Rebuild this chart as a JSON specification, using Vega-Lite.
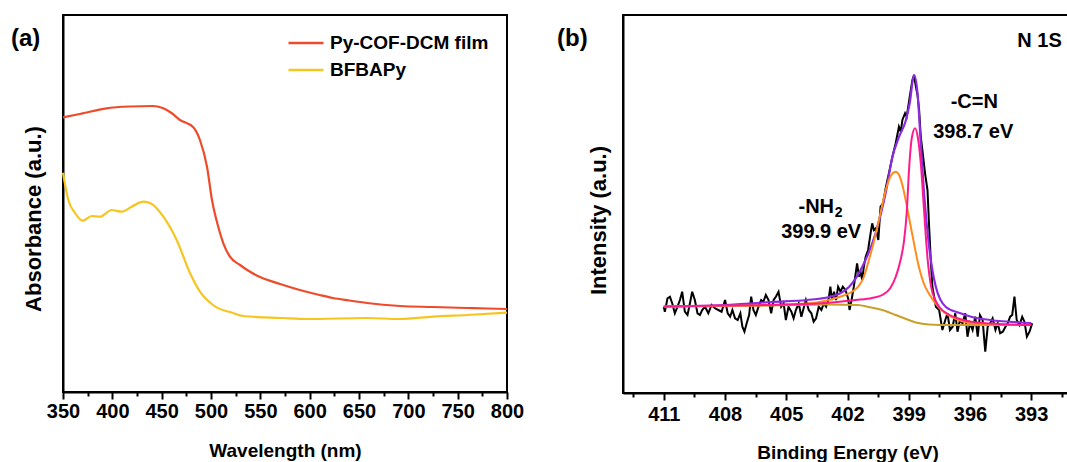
{
  "$schema": "https://vega.github.io/schema/vega-lite/v6.json",
  "padding": {"left": 10, "top": 14, "right": 0, "bottom": 0},
  "autosize": {"type": "pad"},
  "spacing": 116,
  "bounds": "flush",
  "config": {
    "font": "Liberation Sans",
    "view": {"stroke": "black", "strokeWidth": 2},
    "axis": {
      "domainColor": "black", "domainWidth": 2,
      "tickColor": "black", "tickWidth": 2,
      "labelFont": "Liberation Sans", "labelFontSize": 20, "labelFontWeight": "bold", "labelColor": "black",
      "titleFont": "Liberation Sans", "titleFontWeight": "bold", "titleColor": "black",
      "grid": false, "labelFlush": false, "labelOverlap": false
    },
    "title": {"font": "Liberation Sans", "fontSize": 24, "fontWeight": "bold", "color": "black"}
  },
  "datasets": {
    "uv": [
      {"wavelength": 350, "absorbance": 274.7, "sample": "Py-COF-DCM film"},
      {"wavelength": 367, "absorbance": 278, "sample": "Py-COF-DCM film"},
      {"wavelength": 394, "absorbance": 283.7, "sample": "Py-COF-DCM film"},
      {"wavelength": 418, "absorbance": 285.5, "sample": "Py-COF-DCM film"},
      {"wavelength": 441, "absorbance": 286, "sample": "Py-COF-DCM film"},
      {"wavelength": 451, "absorbance": 284, "sample": "Py-COF-DCM film"},
      {"wavelength": 460, "absorbance": 279, "sample": "Py-COF-DCM film"},
      {"wavelength": 468.6, "absorbance": 272, "sample": "Py-COF-DCM film"},
      {"wavelength": 481.8, "absorbance": 265, "sample": "Py-COF-DCM film"},
      {"wavelength": 488.8, "absorbance": 252, "sample": "Py-COF-DCM film"},
      {"wavelength": 496, "absorbance": 225, "sample": "Py-COF-DCM film"},
      {"wavelength": 501, "absorbance": 192, "sample": "Py-COF-DCM film"},
      {"wavelength": 507.4, "absorbance": 165, "sample": "Py-COF-DCM film"},
      {"wavelength": 512.5, "absorbance": 148.7, "sample": "Py-COF-DCM film"},
      {"wavelength": 519.2, "absorbance": 135.3, "sample": "Py-COF-DCM film"},
      {"wavelength": 529.4, "absorbance": 127, "sample": "Py-COF-DCM film"},
      {"wavelength": 540, "absorbance": 120, "sample": "Py-COF-DCM film"},
      {"wavelength": 549.7, "absorbance": 115, "sample": "Py-COF-DCM film"},
      {"wavelength": 570, "absorbance": 108, "sample": "Py-COF-DCM film"},
      {"wavelength": 590, "absorbance": 102, "sample": "Py-COF-DCM film"},
      {"wavelength": 610, "absorbance": 97, "sample": "Py-COF-DCM film"},
      {"wavelength": 623.6, "absorbance": 94, "sample": "Py-COF-DCM film"},
      {"wavelength": 640, "absorbance": 91.5, "sample": "Py-COF-DCM film"},
      {"wavelength": 658, "absorbance": 89, "sample": "Py-COF-DCM film"},
      {"wavelength": 691.5, "absorbance": 86, "sample": "Py-COF-DCM film"},
      {"wavelength": 725, "absorbance": 85, "sample": "Py-COF-DCM film"},
      {"wavelength": 759.5, "absorbance": 84, "sample": "Py-COF-DCM film"},
      {"wavelength": 780, "absorbance": 83.5, "sample": "Py-COF-DCM film"},
      {"wavelength": 800, "absorbance": 83, "sample": "Py-COF-DCM film"},
      {"wavelength": 350, "absorbance": 219.3, "sample": "BFBAPy"},
      {"wavelength": 355.4, "absorbance": 192, "sample": "BFBAPy"},
      {"wavelength": 362.2, "absorbance": 179, "sample": "BFBAPy"},
      {"wavelength": 370, "absorbance": 171.3, "sample": "BFBAPy"},
      {"wavelength": 379, "absorbance": 176, "sample": "BFBAPy"},
      {"wavelength": 387.5, "absorbance": 175.3, "sample": "BFBAPy"},
      {"wavelength": 399.4, "absorbance": 182, "sample": "BFBAPy"},
      {"wavelength": 409.5, "absorbance": 180.3, "sample": "BFBAPy"},
      {"wavelength": 419.6, "absorbance": 185.3, "sample": "BFBAPy"},
      {"wavelength": 431.4, "absorbance": 190.3, "sample": "BFBAPy"},
      {"wavelength": 440, "absorbance": 188, "sample": "BFBAPy"},
      {"wavelength": 451.7, "absorbance": 175.3, "sample": "BFBAPy"},
      {"wavelength": 465.2, "absorbance": 152, "sample": "BFBAPy"},
      {"wavelength": 478.7, "absorbance": 119, "sample": "BFBAPy"},
      {"wavelength": 488.8, "absorbance": 100.3, "sample": "BFBAPy"},
      {"wavelength": 502, "absorbance": 87, "sample": "BFBAPy"},
      {"wavelength": 522.3, "absorbance": 79, "sample": "BFBAPy"},
      {"wavelength": 532.4, "absorbance": 76, "sample": "BFBAPy"},
      {"wavelength": 573, "absorbance": 74, "sample": "BFBAPy"},
      {"wavelength": 597.3, "absorbance": 73, "sample": "BFBAPy"},
      {"wavelength": 658, "absorbance": 74, "sample": "BFBAPy"},
      {"wavelength": 691.5, "absorbance": 73, "sample": "BFBAPy"},
      {"wavelength": 725, "absorbance": 75.3, "sample": "BFBAPy"},
      {"wavelength": 759.5, "absorbance": 77, "sample": "BFBAPy"},
      {"wavelength": 800, "absorbance": 79.3, "sample": "BFBAPy"}
    ],
    "xps_raw": [
      {"be": 411.0, "intensity": 86.3}, {"be": 410.95, "intensity": 81.3}, {"be": 410.82, "intensity": 94.7},
      {"be": 410.70, "intensity": 96.3}, {"be": 410.59, "intensity": 89.7}, {"be": 410.46, "intensity": 79.7},
      {"be": 410.33, "intensity": 86.3}, {"be": 410.21, "intensity": 93}, {"be": 410.10, "intensity": 101.3},
      {"be": 409.97, "intensity": 81.3}, {"be": 409.84, "intensity": 78}, {"be": 409.72, "intensity": 89.7},
      {"be": 409.61, "intensity": 101.3}, {"be": 409.48, "intensity": 93}, {"be": 409.35, "intensity": 79.7},
      {"be": 409.23, "intensity": 78}, {"be": 409.12, "intensity": 83}, {"be": 408.98, "intensity": 86.3},
      {"be": 408.82, "intensity": 79.7}, {"be": 408.66, "intensity": 88}, {"be": 408.49, "intensity": 84.7},
      {"be": 408.33, "intensity": 83}, {"be": 408.17, "intensity": 81.3}, {"be": 408.00, "intensity": 93},
      {"be": 407.87, "intensity": 79.7}, {"be": 407.75, "intensity": 76.3}, {"be": 407.64, "intensity": 83},
      {"be": 407.51, "intensity": 74.7}, {"be": 407.38, "intensity": 73}, {"be": 407.25, "intensity": 79.7},
      {"be": 407.15, "intensity": 66.3}, {"be": 407.05, "intensity": 61.3}, {"be": 406.94, "intensity": 69.7},
      {"be": 406.82, "intensity": 78}, {"be": 406.72, "intensity": 96.3}, {"be": 406.61, "intensity": 83},
      {"be": 406.49, "intensity": 78}, {"be": 406.36, "intensity": 86.3}, {"be": 406.23, "intensity": 93},
      {"be": 406.12, "intensity": 91.3}, {"be": 406.00, "intensity": 98}, {"be": 405.87, "intensity": 93},
      {"be": 405.74, "intensity": 79.7}, {"be": 405.62, "intensity": 93}, {"be": 405.51, "intensity": 96.3},
      {"be": 405.38, "intensity": 101.3}, {"be": 405.25, "intensity": 86.3}, {"be": 405.13, "intensity": 89.7},
      {"be": 405.02, "intensity": 73}, {"be": 404.89, "intensity": 86.3}, {"be": 404.75, "intensity": 81.3},
      {"be": 404.64, "intensity": 74.7}, {"be": 404.53, "intensity": 83}, {"be": 404.39, "intensity": 89.7},
      {"be": 404.26, "intensity": 76.3}, {"be": 404.15, "intensity": 84.7}, {"be": 404.04, "intensity": 93},
      {"be": 403.90, "intensity": 83}, {"be": 403.77, "intensity": 79.7}, {"be": 403.66, "intensity": 71.3},
      {"be": 403.54, "intensity": 74.7}, {"be": 403.41, "intensity": 86.3}, {"be": 403.28, "intensity": 83},
      {"be": 403.16, "intensity": 89.7}, {"be": 403.05, "intensity": 86.3}, {"be": 402.92, "intensity": 94.7},
      {"be": 402.84, "intensity": 106.3}, {"be": 402.76, "intensity": 93}, {"be": 402.66, "intensity": 101.3},
      {"be": 402.56, "intensity": 93}, {"be": 402.46, "intensity": 106.3}, {"be": 402.34, "intensity": 101.3},
      {"be": 402.23, "intensity": 106.3}, {"be": 402.10, "intensity": 103}, {"be": 401.97, "intensity": 94.7},
      {"be": 401.90, "intensity": 83}, {"be": 401.80, "intensity": 93}, {"be": 401.69, "intensity": 106.3},
      {"be": 401.61, "intensity": 118}, {"be": 401.53, "intensity": 129.7}, {"be": 401.44, "intensity": 116.3},
      {"be": 401.36, "intensity": 121.3}, {"be": 401.28, "intensity": 113}, {"be": 401.20, "intensity": 126.3},
      {"be": 401.11, "intensity": 136.3}, {"be": 400.99, "intensity": 143}, {"be": 400.87, "intensity": 159.7},
      {"be": 400.79, "intensity": 169.7}, {"be": 400.71, "intensity": 163}, {"be": 400.62, "intensity": 164.7},
      {"be": 400.49, "intensity": 153}, {"be": 400.38, "intensity": 186.3}, {"be": 400.26, "intensity": 189.7},
      {"be": 400.13, "intensity": 204.7}, {"be": 399.97, "intensity": 219.7}, {"be": 399.80, "intensity": 236.3},
      {"be": 399.64, "intensity": 249.7}, {"be": 399.48, "intensity": 266.3}, {"be": 399.39, "intensity": 261.3},
      {"be": 399.31, "intensity": 273}, {"be": 399.18, "intensity": 279.7}, {"be": 399.10, "intensity": 276.3},
      {"be": 398.95, "intensity": 296.3}, {"be": 398.82, "intensity": 313}, {"be": 398.74, "intensity": 318},
      {"be": 398.65, "intensity": 306.3}, {"be": 398.57, "intensity": 298}, {"be": 398.49, "intensity": 283},
      {"be": 398.41, "intensity": 256.3}, {"be": 398.33, "intensity": 243}, {"be": 398.20, "intensity": 219.7},
      {"be": 398.08, "intensity": 203}, {"be": 398.00, "intensity": 166.3}, {"be": 397.92, "intensity": 133},
      {"be": 397.84, "intensity": 106.3}, {"be": 397.67, "intensity": 86.3}, {"be": 397.51, "intensity": 83},
      {"be": 397.35, "intensity": 63}, {"be": 397.21, "intensity": 73}, {"be": 397.10, "intensity": 79.7},
      {"be": 396.98, "intensity": 63}, {"be": 396.85, "intensity": 66.3}, {"be": 396.72, "intensity": 79.7},
      {"be": 396.61, "intensity": 61.3}, {"be": 396.49, "intensity": 73}, {"be": 396.36, "intensity": 69.7},
      {"be": 396.23, "intensity": 79.7}, {"be": 396.12, "intensity": 56.3}, {"be": 396.00, "intensity": 69.7},
      {"be": 395.87, "intensity": 63}, {"be": 395.74, "intensity": 76.3}, {"be": 395.62, "intensity": 56.3},
      {"be": 395.51, "intensity": 78}, {"be": 395.38, "intensity": 73}, {"be": 395.25, "intensity": 41.3},
      {"be": 395.13, "intensity": 66.3}, {"be": 395.01, "intensity": 69.7}, {"be": 394.89, "intensity": 74.7},
      {"be": 394.75, "intensity": 63}, {"be": 394.64, "intensity": 69.7}, {"be": 394.52, "intensity": 59.7},
      {"be": 394.39, "intensity": 61.3}, {"be": 394.26, "intensity": 66.3}, {"be": 394.15, "intensity": 69.7},
      {"be": 394.03, "intensity": 76.3}, {"be": 393.93, "intensity": 78}, {"be": 393.82, "intensity": 96.3},
      {"be": 393.71, "intensity": 73}, {"be": 393.57, "intensity": 68}, {"be": 393.44, "intensity": 76.3},
      {"be": 393.33, "intensity": 71.3}, {"be": 393.21, "intensity": 56.3}, {"be": 393.08, "intensity": 61.3},
      {"be": 392.95, "intensity": 69.7}
    ],
    "xps_fit": [
      {"be": 411, "intensity": 86.5, "component": "Background"},
      {"be": 409, "intensity": 87, "component": "Background"},
      {"be": 406, "intensity": 87.5, "component": "Background"},
      {"be": 403, "intensity": 88.5, "component": "Background"},
      {"be": 401.5, "intensity": 88, "component": "Background"},
      {"be": 400.96, "intensity": 86, "component": "Background"},
      {"be": 400.3, "intensity": 83, "component": "Background"},
      {"be": 399.64, "intensity": 78, "component": "Background"},
      {"be": 399, "intensity": 73, "component": "Background"},
      {"be": 398.65, "intensity": 70.5, "component": "Background"},
      {"be": 398, "intensity": 68.5, "component": "Background"},
      {"be": 397, "intensity": 68, "component": "Background"},
      {"be": 393, "intensity": 68, "component": "Background"},

      {"be": 411, "intensity": 86.5, "component": "Envelope"},
      {"be": 408, "intensity": 88, "component": "Envelope"},
      {"be": 405.7, "intensity": 91, "component": "Envelope"},
      {"be": 404, "intensity": 93, "component": "Envelope"},
      {"be": 402.9, "intensity": 96, "component": "Envelope"},
      {"be": 401.93, "intensity": 106, "component": "Envelope"},
      {"be": 401.28, "intensity": 126, "component": "Envelope"},
      {"be": 400.62, "intensity": 160, "component": "Envelope"},
      {"be": 400.13, "intensity": 200, "component": "Envelope"},
      {"be": 399.8, "intensity": 236, "component": "Envelope"},
      {"be": 399.48, "intensity": 256, "component": "Envelope"},
      {"be": 399.15, "intensity": 272, "component": "Envelope"},
      {"be": 398.95, "intensity": 290, "component": "Envelope"},
      {"be": 398.74, "intensity": 318, "component": "Envelope"},
      {"be": 398.57, "intensity": 300, "component": "Envelope"},
      {"be": 398.41, "intensity": 250, "component": "Envelope"},
      {"be": 398.25, "intensity": 200, "component": "Envelope"},
      {"be": 398.0, "intensity": 146, "component": "Envelope"},
      {"be": 397.67, "intensity": 106, "component": "Envelope"},
      {"be": 397.18, "intensity": 86, "component": "Envelope"},
      {"be": 396.5, "intensity": 80, "component": "Envelope"},
      {"be": 395.9, "intensity": 76, "component": "Envelope"},
      {"be": 395, "intensity": 73, "component": "Envelope"},
      {"be": 393, "intensity": 70, "component": "Envelope"},

      {"be": 411, "intensity": 86.5, "component": "NH2"},
      {"be": 408, "intensity": 87, "component": "NH2"},
      {"be": 405, "intensity": 88.5, "component": "NH2"},
      {"be": 403.5, "intensity": 90.5, "component": "NH2"},
      {"be": 402.4, "intensity": 96, "component": "NH2"},
      {"be": 401.8, "intensity": 101, "component": "NH2"},
      {"be": 401.45, "intensity": 107, "component": "NH2"},
      {"be": 401.2, "intensity": 116, "component": "NH2"},
      {"be": 400.95, "intensity": 133, "component": "NH2"},
      {"be": 400.7, "intensity": 152, "component": "NH2"},
      {"be": 400.46, "intensity": 173, "component": "NH2"},
      {"be": 400.1, "intensity": 205, "component": "NH2"},
      {"be": 399.85, "intensity": 218, "component": "NH2"},
      {"be": 399.64, "intensity": 221.3, "component": "NH2"},
      {"be": 399.45, "intensity": 217, "component": "NH2"},
      {"be": 399.3, "intensity": 207, "component": "NH2"},
      {"be": 399.15, "intensity": 193, "component": "NH2"},
      {"be": 399.0, "intensity": 177, "component": "NH2"},
      {"be": 398.84, "intensity": 160, "component": "NH2"},
      {"be": 398.5, "intensity": 126, "component": "NH2"},
      {"be": 398.25, "intensity": 109, "component": "NH2"},
      {"be": 398.0, "intensity": 99, "component": "NH2"},
      {"be": 397.5, "intensity": 85, "component": "NH2"},
      {"be": 397.0, "intensity": 77, "component": "NH2"},
      {"be": 396.5, "intensity": 72.5, "component": "NH2"},
      {"be": 396, "intensity": 70, "component": "NH2"},
      {"be": 395, "intensity": 68.5, "component": "NH2"},
      {"be": 393, "intensity": 68, "component": "NH2"},

      {"be": 411, "intensity": 86.5, "component": "CN"},
      {"be": 408, "intensity": 87.5, "component": "CN"},
      {"be": 405, "intensity": 88.5, "component": "CN"},
      {"be": 403, "intensity": 90, "component": "CN"},
      {"be": 401.6, "intensity": 93, "component": "CN"},
      {"be": 400.8, "intensity": 95, "component": "CN"},
      {"be": 400.3, "intensity": 98, "component": "CN"},
      {"be": 399.9, "intensity": 105, "component": "CN"},
      {"be": 399.64, "intensity": 116, "component": "CN"},
      {"be": 399.4, "intensity": 133, "component": "CN"},
      {"be": 399.23, "intensity": 152, "component": "CN"},
      {"be": 399.1, "intensity": 180, "component": "CN"},
      {"be": 398.98, "intensity": 225, "component": "CN"},
      {"be": 398.85, "intensity": 255, "component": "CN"},
      {"be": 398.69, "intensity": 264.7, "component": "CN"},
      {"be": 398.55, "intensity": 255, "component": "CN"},
      {"be": 398.41, "intensity": 230, "component": "CN"},
      {"be": 398.25, "intensity": 183, "component": "CN"},
      {"be": 398.08, "intensity": 135, "component": "CN"},
      {"be": 397.9, "intensity": 106, "component": "CN"},
      {"be": 397.7, "intensity": 93, "component": "CN"},
      {"be": 397.5, "intensity": 86, "component": "CN"},
      {"be": 397, "intensity": 78, "component": "CN"},
      {"be": 396.5, "intensity": 74, "component": "CN"},
      {"be": 396, "intensity": 71.5, "component": "CN"},
      {"be": 395, "intensity": 69.5, "component": "CN"},
      {"be": 393, "intensity": 68, "component": "CN"}
    ],
    "xps_labels": [
      {"be": 392.59, "intensity": 352, "text": "N 1S"},
      {"be": 395.79, "intensity": 291.3, "text": "-C=N"},
      {"be": 395.84, "intensity": 261.3, "text": "398.7 eV"},
      {"be": 403.53, "intensity": 186.3, "text": "-NH"},
      {"be": 403.29, "intensity": 161.3, "text": "399.9 eV"}
    ],
    "xps_sub": [
      {"be": 402.43, "intensity": 179.7, "text": "2"}
    ]
  },
  "hconcat": [
    {
      "width": 444,
      "height": 377,
      "title": {"text": "(a)", "anchor": "start", "frame": "group", "orient": "top", "offset": 0, "baseline": "middle", "dx": -52, "dy": 48},
      "data": {"name": "uv"},
      "mark": {"type": "line", "strokeWidth": 2.2, "interpolate": "monotone"},
      "encoding": {
        "x": {
          "field": "wavelength", "type": "quantitative",
          "scale": {"domain": [350, 800], "nice": false, "zero": false},
          "axis": {
            "title": "Wavelength (nm)", "titleFontSize": 19,
            "values": [350, 375, 400, 425, 450, 475, 500, 525, 550, 575, 600, 625, 650, 675, 700, 725, 750, 775, 800],
            "labelExpr": "datum.value % 50 === 0 ? datum.label : ''",
            "tickSize": {"condition": {"test": "datum.value % 50 === 0", "value": 7}, "value": 4},
            "labelPadding": 2,
            "titleBaseline": "alphabetic", "titleY": 64.7
          }
        },
        "y": {
          "field": "absorbance", "type": "quantitative",
          "scale": {"domain": [0, 377], "nice": false},
          "axis": {
            "title": "Absorbance (a.u.)", "titleFontSize": 22, "labels": false, "ticks": false,
            "titleBaseline": "alphabetic", "titleX": -23, "titleY": 203.5, "titleAngle": -90, "titleAlign": "center"
          }
        },
        "color": {
          "field": "sample", "type": "nominal",
          "scale": {"domain": ["Py-COF-DCM film", "BFBAPy"], "range": ["#EE4B2B", "#F7C520"]},
          "legend": {
            "orient": "none", "legendX": 233, "legendY": 18, "title": null,
            "symbolType": "M-2,0H2", "symbolSize": 306, "symbolStrokeWidth": 2.5,
            "labelFont": "Liberation Sans", "labelFontSize": 19, "labelFontWeight": "bold", "labelColor": "black",
            "labelOffset": 14, "rowPadding": 7, "padding": 0
          }
        }
      }
    },
    {
      "width": 449,
      "height": 378,
      "title": {"text": "(b)", "anchor": "start", "frame": "group", "orient": "top", "offset": 0, "baseline": "middle", "dx": -66, "dy": 48},
      "encoding": {
        "x": {
          "field": "be", "type": "quantitative",
          "scale": {"domain": [391, 413], "reverse": true, "nice": false, "zero": false},
          "axis": {
            "title": "Binding Energy (eV)", "titleFontSize": 19,
            "values": [412.5, 411, 409.5, 408, 406.5, 405, 403.5, 402, 400.5, 399, 397.5, 396, 394.5, 393, 391.5],
            "labelExpr": "datum.value % 3 === 0 ? datum.label : ''",
            "tickSize": {"condition": {"test": "datum.value % 3 === 0", "value": 7}, "value": 4},
            "labelPadding": 4,
            "titleBaseline": "alphabetic", "titleY": 65
          }
        },
        "y": {
          "field": "intensity", "type": "quantitative",
          "scale": {"domain": [0, 378], "nice": false},
          "axis": {
            "title": "Intensity (a.u.)", "titleFontSize": 22, "labels": false, "ticks": false,
            "titleBaseline": "alphabetic", "titleX": -18, "titleY": 205, "titleAngle": -90, "titleAlign": "center"
          }
        }
      },
      "layer": [
        {"data": {"name": "xps_raw"}, "mark": {"type": "line", "color": "black", "strokeWidth": 2}},
        {"data": {"name": "xps_fit"}, "transform": [{"filter": "datum.component === 'Background'"}],
         "mark": {"type": "line", "color": "#C8A12B", "strokeWidth": 2, "interpolate": "monotone"}},
        {"data": {"name": "xps_fit"}, "transform": [{"filter": "datum.component === 'Envelope'"}],
         "mark": {"type": "line", "color": "#8A2BE2", "strokeWidth": 2.2, "interpolate": "monotone"}},
        {"data": {"name": "xps_fit"}, "transform": [{"filter": "datum.component === 'NH2'"}],
         "mark": {"type": "line", "color": "#FF8C1A", "strokeWidth": 2, "interpolate": "monotone"}},
        {"data": {"name": "xps_fit"}, "transform": [{"filter": "datum.component === 'CN'"}],
         "mark": {"type": "line", "color": "#FF1A8C", "strokeWidth": 2, "interpolate": "monotone"}},
        {"data": {"name": "xps_labels"},
         "mark": {"type": "text", "font": "Liberation Sans", "fontSize": 20, "fontWeight": "bold", "color": "black", "align": "center", "baseline": "middle"},
         "encoding": {"text": {"field": "text"}}},
        {"data": {"name": "xps_sub"},
         "mark": {"type": "text", "font": "Liberation Sans", "fontSize": 14, "fontWeight": "bold", "color": "black", "align": "center", "baseline": "middle"},
         "encoding": {"text": {"field": "text"}}}
      ]
    }
  ]
}
